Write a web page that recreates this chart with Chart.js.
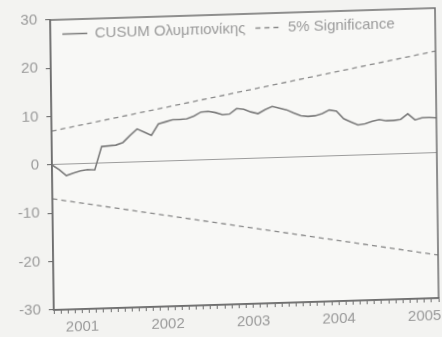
<!DOCTYPE html>
<html>
<head>
<meta charset="utf-8">
<script src="https://cdn.jsdelivr.net/npm/chart.js@4.4.1/dist/chart.umd.min.js"></script>
<style>
  html, body { margin: 0; padding: 0; background: #f3f3f1; overflow: hidden; }
  #wrap { width: 442px; height: 337px; transform-origin: 52px 165px; transform: matrix(1, -0.031, 0.0125, 1, 0, 0); }
</style>
</head>
<body>
<div id="wrap"><canvas id="c" width="442" height="337"></canvas></div>
<script>
const months = [
  '2000-09','2000-10','2000-11','2000-12',
  '2001-01','2001-02','2001-03','2001-04','2001-05','2001-06','2001-07','2001-08','2001-09','2001-10','2001-11','2001-12',
  '2002-01','2002-02','2002-03','2002-04','2002-05','2002-06','2002-07','2002-08','2002-09','2002-10','2002-11','2002-12',
  '2003-01','2003-02','2003-03','2003-04','2003-05','2003-06','2003-07','2003-08','2003-09','2003-10','2003-11','2003-12',
  '2004-01','2004-02','2004-03','2004-04','2004-05','2004-06','2004-07','2004-08','2004-09','2004-10','2004-11','2004-12',
  '2005-01','2005-02','2005-03'
];
const cusum = [0, -1.0, -2.3, -1.8, -1.4, -1.2, -1.3, 3.5, 3.6, 3.7, 4.2, 5.6, 6.9, 6.2, 5.5, 7.8, 8.2, 8.6, 8.6, 8.7,
  9.2, 10.0, 10.1, 9.8, 9.3, 9.4, 10.5, 10.3, 9.7, 9.3, 10.1, 10.7, 10.3, 9.9, 9.2, 8.6, 8.4, 8.5, 8.9, 9.6,
  9.3, 7.7, 7.0, 6.3, 6.5, 7.0, 7.3, 7.0, 7.0, 7.2, 8.3, 7.0, 7.4, 7.4, 7.3];
const sigDates = ['2000-09', '2005-03'];
const sigUpper = [7.0, 21.1];
const sigLower = [-7.0, -21.1];
const yTicks = [-30, -20, -10, 0, 10, 20, 30];
const seriesNames = ['CUSUM Ολυμπιονίκης', '5% Significance'];

const textColor = '#9a9a9a';
const axisColor = '#6e6e6e';

const boxPlugin = {
  id: 'boxPlugin',
  beforeLayout(chart) {
    const lg = chart.legend;
    if (lg && !lg._inside) {
      const orig = lg.fit.bind(lg);
      lg.fit = function() { orig(); this.height = 0; };
      lg._inside = true;
    }
  },
  afterLayout(chart) {
    const lg = chart.legend;
    const a = chart.chartArea;
    if (lg) {
      lg.left = a.left + 2;
      lg.right = a.right;
      lg.top = a.top - 3;
      lg.bottom = lg.top + 36;
      lg.width = lg.right - lg.left;
      lg.height = lg.bottom - lg.top;
    }
  },
  beforeDraw(chart) {
    const {ctx, chartArea: a} = chart;
    ctx.save();
    ctx.fillStyle = '#f8f8f6';
    ctx.fillRect(a.left, a.top, a.right - a.left, a.bottom - a.top);
    ctx.restore();
  },
  afterDraw(chart) {
    const {ctx, chartArea: a} = chart;
    ctx.save();
    ctx.strokeStyle = axisColor;
    ctx.lineWidth = 1.5;
    ctx.strokeRect(a.left, a.top, a.right - a.left, a.bottom - a.top);
    ctx.restore();
  }
};

new Chart(document.getElementById('c'), {
  type: 'line',
  data: {
    labels: months,
    datasets: [
      {
        label: seriesNames[0],
        data: cusum,
        borderColor: '#7c7c7c',
        backgroundColor: 'rgba(0,0,0,0)',
        borderWidth: 1.6,
        pointRadius: 0,
        tension: 0,
        order: 0
      },
      {
        label: seriesNames[1],
        data: sigDates.map((d, i) => ({x: d, y: sigUpper[i]})),
        borderColor: '#8a8a8a',
        backgroundColor: 'rgba(0,0,0,0)',
        borderWidth: 1.3,
        borderDash: [5, 4],
        pointRadius: 0,
        order: 1
      },
      {
        label: seriesNames[1],
        data: sigDates.map((d, i) => ({x: d, y: sigLower[i]})),
        borderColor: '#8a8a8a',
        backgroundColor: 'rgba(0,0,0,0)',
        borderWidth: 1.3,
        borderDash: [5, 4],
        pointRadius: 0,
        order: 1
      }
    ]
  },
  options: {
    responsive: false,
    animation: false,
    events: [],
    layout: { padding: { left: 0, right: 4, top: 20, bottom: 0 } },
    plugins: {
      tooltip: { enabled: false },
      legend: {
        position: 'top',
        align: 'start',
        labels: {
          filter: (item) => item.datasetIndex !== 2,
          usePointStyle: false,
          boxWidth: 25,
          boxHeight: 0,
          padding: 10,
          color: textColor,
          font: { family: 'Liberation Sans', size: 15 }
        }
      }
    },
    scales: {
      x: {
        type: 'category',
        afterFit(scale) { scale.height = 27; },
        grid: { drawOnChartArea: false, drawTicks: true, tickLength: 4, tickColor: axisColor, lineWidth: 1 },
        border: { display: true, color: axisColor, width: 1.5 },
        ticks: {
          autoSkip: false,
          maxRotation: 0,
          minRotation: 0,
          padding: 5,
          color: textColor,
          font: { family: 'Liberation Sans', size: 15 },
          callback: function(value, index) {
            const lab = months[index];
            return lab.endsWith('-01') ? lab.slice(0, 4) : '';
          }
        }
      },
      y: {
        min: -30,
        max: 30,
        afterFit(scale) { scale.width = 52; },
        afterBuildTicks(scale) { scale.ticks = yTicks.map(v => ({value: v})); },
        grid: {
          drawOnChartArea: true,
          drawTicks: true,
          tickLength: 5,
          tickColor: axisColor,
          color: (c) => (c.tick && c.tick.value === 0) ? '#9c9c9c' : 'rgba(0,0,0,0)',
          lineWidth: 1.1
        },
        border: { display: true, color: axisColor, width: 1.5 },
        ticks: {
          padding: 8,
          color: textColor,
          font: { family: 'Liberation Sans', size: 15 }
        }
      }
    }
  },
  plugins: [boxPlugin]
});
</script>
</body>
</html>
